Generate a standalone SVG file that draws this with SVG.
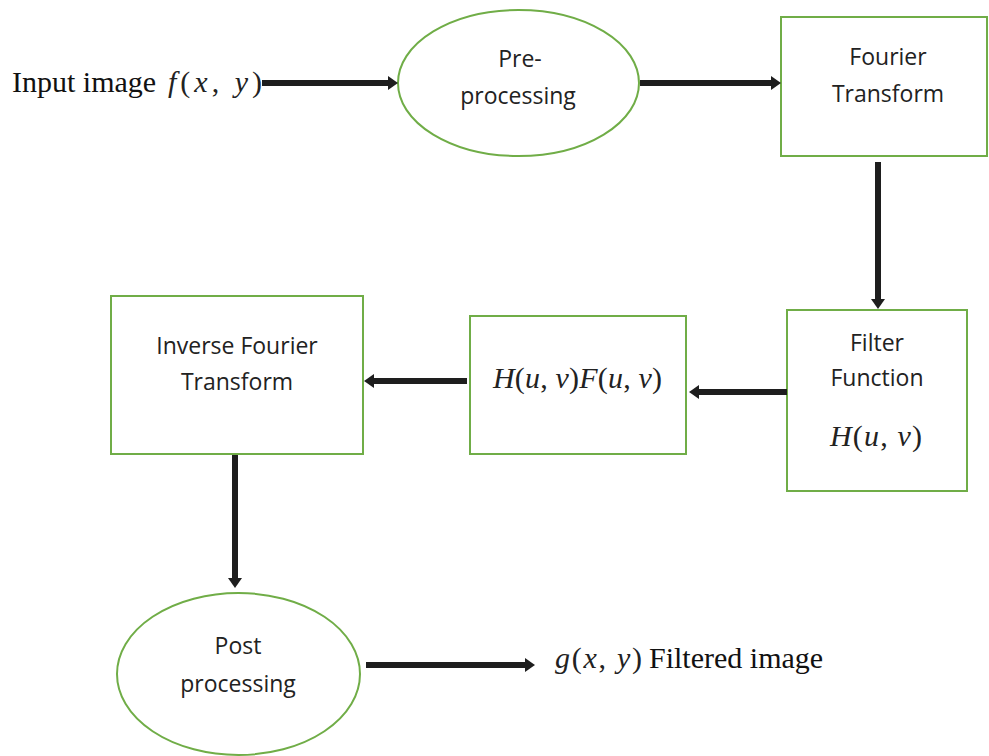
<svg xmlns="http://www.w3.org/2000/svg" width="989" height="756" viewBox="0 0 989 756">
<style>
.box{fill:none;stroke:#70AD47;stroke-width:2}
.lbl{font-family:"Open Sans","Liberation Sans",sans-serif;font-size:23px;fill:#222;text-anchor:middle}
.tm{font-family:"Liberation Serif","Times New Roman",serif;font-size:30px;fill:#111}
.mth{font-family:"Liberation Serif","Times New Roman",serif;font-size:30px;fill:#222}
.it{font-style:italic}
.conn line{stroke:#1e1e1e;stroke-width:6;marker-end:url(#ah)}
</style>
<defs>
<marker id="ah" viewBox="0 0 10 14" refX="1" refY="7" markerUnits="userSpaceOnUse" markerWidth="10" markerHeight="14" orient="auto">
<path d="M0,0 L10,7 L0,14 z" fill="#1e1e1e"/>
</marker>
</defs>
<rect width="989" height="756" fill="#fff"/>

<g id="input">
<text class="tm" x="12" y="92">Input image</text>
<text class="mth" x="168" y="92" textLength="94" lengthAdjust="spacing"><tspan class="it">f</tspan>(<tspan class="it">x</tspan>, <tspan class="it">y</tspan>)</text>
</g>

<g id="preprocessing">
<ellipse class="box" cx="518.5" cy="83" rx="120.5" ry="73"/>
<text class="lbl" x="520" y="67">Pre-</text>
<text class="lbl" x="518" y="104">processing</text>
</g>

<g id="fourier">
<rect class="box" x="781" y="17" width="206" height="139"/>
<text class="lbl" x="888" y="65">Fourier</text>
<text class="lbl" x="888" y="102">Transform</text>
</g>

<g id="filter">
<rect class="box" x="787" y="310" width="180" height="181"/>
<text class="lbl" x="877" y="351">Filter</text>
<text class="lbl" x="877" y="386">Function</text>
<text class="mth" x="830" y="446" textLength="92" lengthAdjust="spacing"><tspan class="it">H</tspan>(<tspan class="it">u</tspan>, <tspan class="it">v</tspan>)</text>
</g>

<g id="product">
<rect class="box" x="470" y="316" width="216" height="138"/>
<text class="mth" x="493" y="388" textLength="169" lengthAdjust="spacing"><tspan class="it">H</tspan>(<tspan class="it">u</tspan>, <tspan class="it">v</tspan>)<tspan class="it">F</tspan>(<tspan class="it">u</tspan>, <tspan class="it">v</tspan>)</text>
</g>

<g id="inverse">
<rect class="box" x="111" y="296" width="252" height="158"/>
<text class="lbl" x="237" y="354">Inverse Fourier</text>
<text class="lbl" x="237" y="390">Transform</text>
</g>

<g id="postprocessing">
<ellipse class="box" cx="238.5" cy="674" rx="121.5" ry="81"/>
<text class="lbl" x="238" y="654">Post</text>
<text class="lbl" x="238" y="692">processing</text>
</g>

<g id="output">
<text class="mth" x="555" y="668" textLength="87" lengthAdjust="spacing"><tspan class="it">g</tspan>(<tspan class="it">x</tspan>, <tspan class="it">y</tspan>)</text>
<text class="tm" x="649" y="668">Filtered image</text>
</g>

<g id="connectors" class="conn">
<line x1="262" y1="83" x2="389" y2="83"/>
<line x1="640" y1="83" x2="772" y2="83"/>
<line x1="878" y1="162" x2="878" y2="300"/>
<line x1="787" y1="392" x2="698" y2="392"/>
<line x1="467" y1="381" x2="373" y2="381"/>
<line x1="235" y1="455" x2="235" y2="579"/>
<line x1="366" y1="665" x2="526" y2="665"/>
</g>
</svg>
